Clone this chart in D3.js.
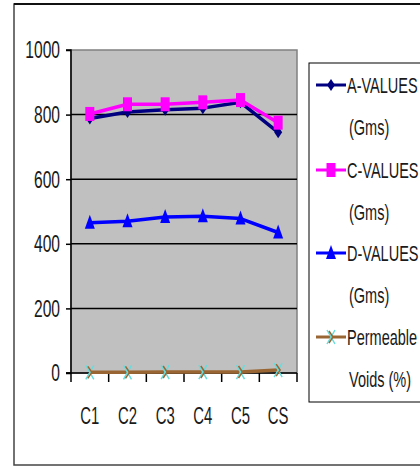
<!DOCTYPE html>
<html>
<head>
<meta charset="utf-8">
<script src="https://cdn.jsdelivr.net/npm/d3@7"></script>
<style>
  html, body { margin: 0; padding: 0; background: #fff; }
  svg { display: block; }
  text { font-family: "Liberation Sans", Arial, sans-serif; fill: #1a1a1a; }
</style>
</head>
<body>
<svg id="chart" width="420" height="467"></svg>
<script>
const categories = ["C1", "C2", "C3", "C4", "C5", "CS"];
const aValues = [788, 808, 815, 820, 838, 745];
const cValues = [802, 832, 832, 838, 845, 775];
const dValues = [465, 470, 483, 485, 478, 435];
const voidValues = [2, 2, 3, 3, 3, 9];
const yTicks = [0, 200, 400, 600, 800, 1000];
const seriesNames = [["A-VALUES", "(Gms)"], ["C-VALUES", "(Gms)"], ["D-VALUES", "(Gms)"], ["Permeable", "Voids (%)"]];

const series = [
  { name: seriesNames[0], values: aValues, color: "#000080", marker: "diamond" },
  { name: seriesNames[1], values: cValues, color: "#FF00FF", marker: "square" },
  { name: seriesNames[2], values: dValues, color: "#0000FF", marker: "triangle" },
  { name: seriesNames[3], values: voidValues, color: "#996633", marker: "star" }
];

const svg = d3.select("#chart");
const plot = { left: 71, right: 297, top: 50, bottom: 373 };

const x = d3.scaleBand().domain(categories).range([plot.left, plot.right]);
const y = d3.scaleLinear().domain([0, 1000]).range([plot.bottom, plot.top]);

// outer chart border
svg.append("rect").attr("x", 14).attr("y", 4).attr("width", 420).attr("height", 461)
  .attr("fill", "#fff").attr("stroke", "#444").attr("stroke-width", 1.5);
svg.append("line").attr("x1", 14).attr("x2", 420).attr("y1", 4).attr("y2", 4)
  .attr("stroke", "#111").attr("stroke-width", 2);

// plot area
svg.append("rect").attr("x", plot.left).attr("y", plot.top)
  .attr("width", plot.right - plot.left).attr("height", plot.bottom - plot.top)
  .attr("fill", "#C0C0C0").attr("stroke", "#808080").attr("stroke-width", 1.5);

// gridlines
svg.append("g").selectAll("line").data(yTicks.filter(t => t > 0 && t < 1000)).join("line")
  .attr("x1", plot.left).attr("x2", plot.right)
  .attr("y1", d => y(d)).attr("y2", d => y(d))
  .attr("stroke", "#000").attr("stroke-width", 1.5);

function stretchText(g, px, py, str, anchor, size, sx) {
  const t = g.append("g").attr("transform", `translate(${px},${py}) scale(${sx},1)`);
  t.append("text").attr("text-anchor", anchor).attr("dominant-baseline", "central")
    .attr("font-size", size).text(str);
}

// y axis
const yAxis = d3.axisLeft(y).tickValues(yTicks).tickSize(5).tickFormat("");
const yg = svg.append("g").attr("transform", `translate(${plot.left},0)`).call(yAxis);
yg.selectAll("path, line").attr("stroke", "#000").attr("stroke-width", 1.5);
yg.select("path.domain").attr("d", `M-5,${plot.top}H0V${plot.bottom}H-5`);
const labels = svg.append("g");
yTicks.forEach(t => stretchText(labels, 60, y(t), String(t), "end", 24, 0.65));

// x axis
const xg = svg.append("g").attr("transform", `translate(0,${plot.bottom})`);
xg.append("line").attr("x1", plot.left - 5).attr("x2", plot.right).attr("y1", 0).attr("y2", 0)
  .attr("stroke", "#000").attr("stroke-width", 1.5);
const bounds = categories.map(c => x(c)).concat([plot.right]);
xg.selectAll("line.tk").data(bounds).join("line").attr("class", "tk")
  .attr("x1", d => d).attr("x2", d => d).attr("y1", 0).attr("y2", 9)
  .attr("stroke", "#000").attr("stroke-width", 1.5);
categories.forEach(c => stretchText(labels, x(c) + x.bandwidth() / 2, 416, c, "middle", 24, 0.62));

function drawMarker(g, type, cx, cy, color) {
  if (type === "diamond") {
    g.append("path").attr("d", `M${cx},${cy - 6}L${cx + 4},${cy}L${cx},${cy + 6}L${cx - 4},${cy}Z`)
      .attr("fill", color);
  } else if (type === "square") {
    g.append("rect").attr("x", cx - 4.5).attr("y", cy - 7).attr("width", 9).attr("height", 14)
      .attr("fill", color);
  } else if (type === "triangle") {
    g.append("path").attr("d", `M${cx},${cy - 8}L${cx + 5},${cy + 6}L${cx - 5},${cy + 6}Z`)
      .attr("fill", color);
  } else if (type === "star") {
    g.append("path").attr("d", `M${cx - 4},${cy - 7}L${cx + 4},${cy + 7}M${cx + 4},${cy - 7}L${cx - 4},${cy + 7}`)
      .attr("stroke", "#66DDDD").attr("stroke-width", 1.5);
    g.append("path").attr("d", `M${cx - 2},${cy - 6}L${cx + 2},${cy}L${cx - 2},${cy + 6}`)
      .attr("fill", "none").attr("stroke", color).attr("stroke-width", 1.5);
  }
}

const line = d3.line().x((d, i) => x(categories[i]) + x.bandwidth() / 2).y(d => y(d));
const marks = svg.append("g");
// draw order: voids first, then D, A, C on top
[3, 2, 0, 1].forEach(si => {
  const s = series[si];
  marks.append("path").datum(s.values).attr("d", line)
    .attr("fill", "none").attr("stroke", s.color).attr("stroke-width", 3.5)
    .attr("stroke-linejoin", "round");
  s.values.forEach((v, i) => drawMarker(marks, s.marker, x(categories[i]) + x.bandwidth() / 2, y(v), s.color));
});

// legend
const legend = svg.append("g");
legend.append("rect").attr("x", 309).attr("y", 63).attr("width", 130).attr("height", 339)
  .attr("fill", "#fff").attr("stroke", "#000").attr("stroke-width", 1);
const legendY = [85, 170, 253, 337];
series.forEach((s, i) => {
  const ly = legendY[i];
  legend.append("line").attr("x1", 316).attr("x2", 346).attr("y1", ly).attr("y2", ly)
    .attr("stroke", s.color).attr("stroke-width", 3);
  drawMarker(legend, s.marker, 331, ly, s.color);
  stretchText(legend, 347, ly, s.name[0], "start", 22, 0.66);
  stretchText(legend, 349, ly + 42, s.name[1], "start", 22, 0.66);
});
</script>
</body>
</html>
